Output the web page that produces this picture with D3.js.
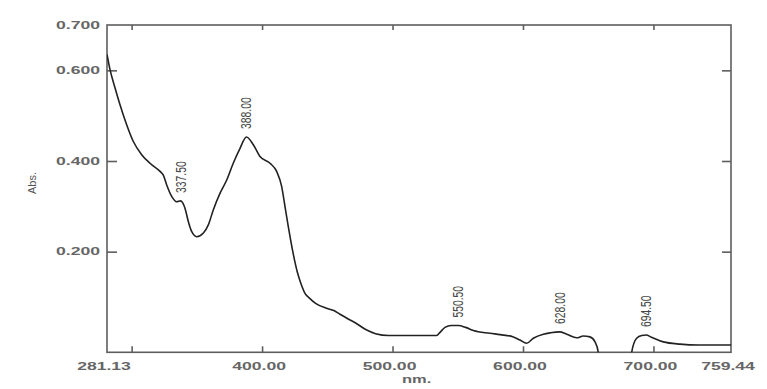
<!DOCTYPE html>
<html><head><meta charset="utf-8">
<script src="https://cdn.jsdelivr.net/npm/d3@7"></script>
<style>body{margin:0;background:#fff;}svg{display:block;}</style>
</head><body>
<svg id="c" width="767" height="389"></svg>
<script>
const wavelengths = [281.13,283.4,287.3,291.1,296.2,301.3,307.7,314.1,321.8,324.3,326.9,330.7,334.6,337.5,340.9,343.5,346.1,349.9,355.0,358.8,362.6,367.8,372.9,377.9,383.1,388.0,393.3,398.4,406.1,411.2,415.0,417.6,420.1,423.9,427.0,429.5,432.9,436.5,441.0,449.5,455.0,459.7,465.0,472.0,480.2,487.0,497.0,533.8,536.4,540.2,545.0,550.5,556.0,562.0,574.7,582.4,592.6,597.7,602.8,607.9,615.6,621.0,628.0,633.5,641.2,646.2,651.3,655.2,657.7,659.0,682.0,683.3,687.1,691.0,694.5,698.0,707.6,720.4,734.4,759.44];
const absorbance = [0.635,0.602,0.561,0.524,0.480,0.443,0.414,0.395,0.377,0.369,0.347,0.322,0.310,0.312,0.296,0.266,0.244,0.233,0.241,0.259,0.292,0.329,0.358,0.395,0.428,0.453,0.436,0.410,0.395,0.377,0.344,0.299,0.255,0.195,0.155,0.132,0.108,0.097,0.086,0.075,0.070,0.062,0.053,0.042,0.027,0.019,0.015,0.015,0.022,0.033,0.037,0.037,0.033,0.026,0.020,0.017,0.012,0.005,-0.002,0.009,0.018,0.021,0.023,0.018,0.010,0.014,0.012,0.001,-0.022,-0.06,-0.06,-0.022,0.009,0.015,0.016,0.012,0.001,-0.004,-0.006,-0.006];
const xTickValues = [300,400,500,600,700];
const xLabelValues = [281.13,400,500,600,700,759.44];
const yTickValues = [0.2,0.4,0.6];
const yLabelValues = [0.2,0.4,0.6,0.7];
const peakNm = [337.5,388.0,550.5,628.0,694.5];
const peakAbs = [0.312,0.453,0.037,0.023,0.016];
const peakText = ["337.50","388.00","550.50","628.00","694.50"];

const svg = d3.select("#c");
const L=107, R=731, T=25, B=352.3;
const x = d3.scaleLinear().domain([281.13,759.44]).range([L,R]);
const y = d3.scaleLinear().domain([-0.022,0.7]).range([B,T]);
const axisColor = "#5e5e5e", textColor = "#666";

svg.append("defs").append("clipPath").attr("id","pc")
  .append("rect").attr("x",L).attr("y",T).attr("width",R-L).attr("height",B-T);

// ticks (inward)
function styleAxis(g){ g.select(".domain").remove(); g.selectAll("line").attr("stroke",axisColor).attr("stroke-width",1.6); g.selectAll("text").remove(); }
svg.append("g").attr("transform",`translate(0,${B})`).call(d3.axisBottom(x).tickValues(xTickValues).tickSize(-6).tickFormat("")).call(styleAxis);
svg.append("g").attr("transform",`translate(0,${T})`).call(d3.axisTop(x).tickValues(xTickValues).tickSize(-5).tickFormat("")).call(styleAxis);
svg.append("g").attr("transform",`translate(${L},0)`).call(d3.axisLeft(y).tickValues(yTickValues).tickSize(-10).tickFormat("")).call(styleAxis);
svg.append("g").attr("transform",`translate(${R},0)`).call(d3.axisRight(y).tickValues(yTickValues).tickSize(-9).tickFormat("")).call(styleAxis);

// frame
svg.append("rect").attr("x",L).attr("y",T).attr("width",R-L).attr("height",B-T)
  .attr("fill","none").attr("stroke",axisColor).attr("stroke-width",1.6);

// tick labels (stretched)
const fmt = d3.format(".2f"), fmtY = d3.format(".3f");
svg.append("g").selectAll("text").data(xLabelValues).join("text")
  .attr("transform",d=>`translate(${x(d)-3},${B+17.7}) scale(1.6,1)`)
  .attr("text-anchor","middle").attr("font-family","Liberation Sans, Arial, sans-serif")
  .attr("font-size",11).attr("font-weight","bold").attr("fill",textColor)
  .text(d=>fmt(d));
svg.append("g").selectAll("text").data(yLabelValues).join("text")
  .attr("transform",d=>`translate(100,${y(d)+3.8}) scale(1.6,1)`)
  .attr("text-anchor","end").attr("font-family","Liberation Sans, Arial, sans-serif")
  .attr("font-size",11).attr("font-weight","bold").attr("fill",textColor)
  .text(d=>fmtY(d));

// axis titles
svg.append("text").attr("transform",`translate(416.7,383) scale(1.5,1)`)
  .attr("text-anchor","middle").attr("font-family","Liberation Sans, Arial, sans-serif")
  .attr("font-size",11).attr("font-weight","bold").attr("fill",textColor).text("nm.");
svg.append("text").attr("transform",`translate(36,183) rotate(-90)`)
  .attr("text-anchor","middle").attr("font-family","Liberation Sans, Arial, sans-serif")
  .attr("font-size",11).attr("fill","#555").text("Abs.");

// curve
const data = wavelengths.map((w,i)=>[w,absorbance[i]]);
svg.append("path").datum(data).attr("clip-path","url(#pc)")
  .attr("fill","none").attr("stroke","#222").attr("stroke-width",1.6)
  .attr("stroke-linejoin","round")
  .attr("d", d3.line().x(d=>x(d[0])).y(d=>y(d[1])).curve(d3.curveMonotoneX));

// peak labels
svg.append("g").selectAll("text").data(peakNm).join("text")
  .attr("transform",(d,i)=>`translate(${x(d)+5},${y(peakAbs[i])-8}) rotate(-90) scale(0.74,1)`)
  .attr("text-anchor","start").attr("font-family","Liberation Sans, Arial, sans-serif")
  .attr("font-size",14).attr("fill","#444")
  .text((d,i)=>peakText[i]);
</script>
</body></html>
